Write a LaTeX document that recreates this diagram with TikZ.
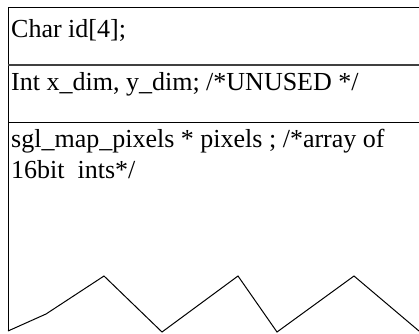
\documentclass[tikz,border=0pt]{standalone}
\usepackage{fontspec}
\setmainfont{Liberation Serif}
\begin{document}
\begin{tikzpicture}[x=1pt,y=-1pt,
  rule/.style={draw=black,line width=1pt},
  field/.style={anchor=base west,inner sep=0pt,font=\fontsize{26}{32}\selectfont}]
\useasboundingbox (0,0) rectangle (419,333);
% outline
\draw[rule] (419,7) -- (8,7) -- (8,331);
\draw[rule,line width=1.4pt,draw=black!75] (8,65) -- (419,65);
\draw[rule] (8,122) -- (419,122);
% torn bottom edge
\draw[rule,line join=miter] (8,331) -- (46,314) -- (104,276) -- (162,332) -- (238,276) -- (277,332) -- (354,276) -- (419,331);
% texts
\node[field] (t1) at (11,37) {Char id[4];};
\node[field] (t2) at (11,90) {Int x\_dim, y\_dim; /*UNUSED */};
\node[field] (t3) at (11,147) {sgl\_map\_pixels * pixels ; /*array of};
\node[field] (t4) at (11,178) {16bit\ \ ints*/};
\end{tikzpicture}
\end{document}
